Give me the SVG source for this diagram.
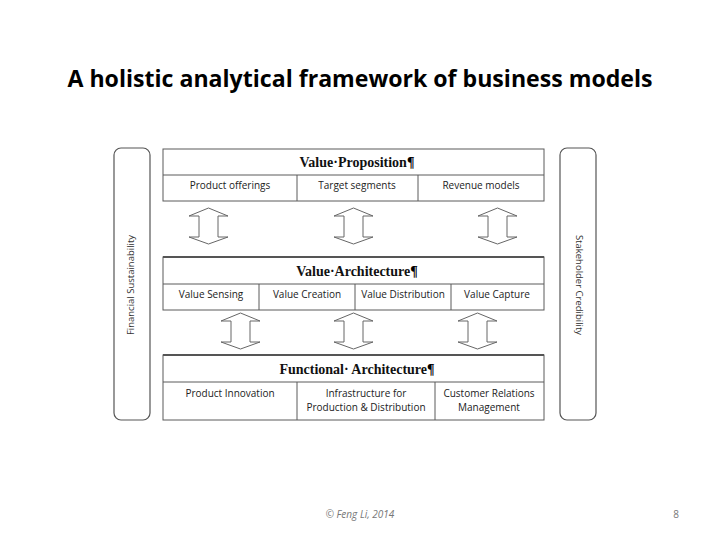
<svg xmlns="http://www.w3.org/2000/svg" width="720" height="540" viewBox="0 0 720 540">
<defs>
<style>
.box{fill:#fff;stroke:#5a5a5a;stroke-width:1}
.thick{fill:none;stroke:#555;stroke-width:2}
.bar{fill:#fff;stroke:#555;stroke-width:1.2}
.arr{fill:#fff;stroke:#666;stroke-width:1}
.hdr{font-family:"Liberation Serif","Times New Roman",serif;font-weight:bold;font-size:14px;fill:#111;text-anchor:middle}
.lbl{font-family:"Open Sans","Liberation Sans",Arial,sans-serif;font-size:10px;fill:#222;text-anchor:middle}
.side{font-family:"Open Sans","Liberation Sans",Arial,sans-serif;font-size:9.5px;fill:#333;text-anchor:middle}
</style>
<path id="dbl" d="M0,0 L19.5,8 L9.5,8 L9.5,29 L19.5,29 L0,36 L-19.5,29 L-9.5,29 L-9.5,8 L-19.5,8 Z"/>
</defs>
<rect width="720" height="540" fill="#fff"/>
<text x="360" y="87" font-family="Open Sans,Liberation Sans,sans-serif" font-weight="bold" font-size="23" text-anchor="middle" fill="#000" textLength="585" lengthAdjust="spacingAndGlyphs">A holistic analytical framework of business models</text>

<g id="financial-sustainability">
<rect class="bar" x="114" y="148" width="36" height="272" rx="7"/>
<text class="side" transform="translate(134,285) rotate(-90)">Financial Sustainability</text>
</g>
<g id="stakeholder-credibility">
<rect class="bar" x="560" y="148" width="36" height="272" rx="7"/>
<text class="side" transform="translate(576,285) rotate(90)">Stakeholder Credibility</text>
</g>

<g id="value-proposition">
<rect class="box" x="163" y="149" width="381" height="52"/>
<line class="box" x1="163" y1="175" x2="544" y2="175"/>
<line class="box" x1="297" y1="175" x2="297" y2="201"/>
<line class="box" x1="418" y1="175" x2="418" y2="201"/>
<text class="hdr" x="357" y="167">Value·Proposition<tspan fill="#000">¶</tspan></text>
<text class="lbl" x="230" y="189">Product offerings</text>
<text class="lbl" x="357" y="189">Target segments</text>
<text class="lbl" x="481" y="189">Revenue models</text>
</g>

<g id="value-architecture">
<rect class="box" x="163" y="257" width="381" height="53"/>
<line class="thick" x1="163" y1="257" x2="544" y2="257"/>
<line class="box" x1="163" y1="284" x2="544" y2="284"/>
<line class="box" x1="259" y1="284" x2="259" y2="310"/>
<line class="box" x1="355" y1="284" x2="355" y2="310"/>
<line class="box" x1="451" y1="284" x2="451" y2="310"/>
<text class="hdr" x="357" y="276">Value·Architecture<tspan fill="#000">¶</tspan></text>
<text class="lbl" x="211" y="298">Value Sensing</text>
<text class="lbl" x="307" y="298">Value Creation</text>
<text class="lbl" x="403" y="298">Value Distribution</text>
<text class="lbl" x="497" y="298">Value Capture</text>
</g>

<g id="functional-architecture">
<rect class="box" x="163" y="355" width="381" height="65"/>
<line class="thick" x1="163" y1="355" x2="544" y2="355"/>
<line class="box" x1="163" y1="382" x2="544" y2="382"/>
<line class="box" x1="297" y1="382" x2="297" y2="420"/>
<line class="box" x1="435" y1="382" x2="435" y2="420"/>
<text class="hdr" x="357" y="374">Functional· Architecture<tspan fill="#000">¶</tspan></text>
<text class="lbl" x="230" y="397">Product Innovation</text>
<text class="lbl" x="366" y="397">Infrastructure for</text>
<text class="lbl" x="366" y="411">Production &amp; Distribution</text>
<text class="lbl" x="489" y="397">Customer Relations</text>
<text class="lbl" x="489" y="411">Management</text>
</g>

<g id="connectors">
<use href="#dbl" class="arr" x="208.5" y="208"/>
<use href="#dbl" class="arr" x="353.5" y="208"/>
<use href="#dbl" class="arr" x="497.5" y="208"/>
<use href="#dbl" class="arr" x="240.5" y="313"/>
<use href="#dbl" class="arr" x="353.5" y="313"/>
<use href="#dbl" class="arr" x="477.5" y="313"/>
</g>

<text x="360" y="518" font-family="Open Sans,Liberation Sans,sans-serif" font-style="italic" font-size="10" fill="#777" text-anchor="middle">© Feng Li, 2014</text>
<text x="676" y="518" font-family="Open Sans,Liberation Sans,sans-serif" font-size="10" fill="#777" text-anchor="middle">8</text>
</svg>
